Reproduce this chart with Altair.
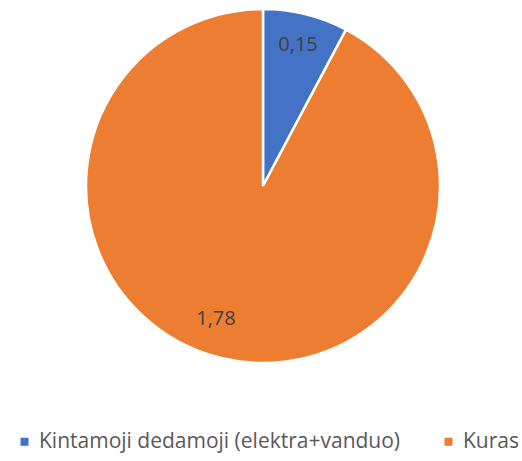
import altair as alt
import pandas as pd

categories = ["Kintamoji dedamoji (elektra+vanduo)", "Kuras"]
values = [0.15, 1.78]
labels = ["0,15", "1,78"]
colors = ["#4472C4", "#ED7D31"]

df = pd.DataFrame({"cat": categories, "val": values, "label": labels, "order": [0, 1]})

base = alt.Chart(df).transform_calculate(
    lab_a="datum.order == 0 ? datum.label : ''",
    lab_b="datum.order == 1 ? datum.label : ''",
).encode(
    theta=alt.Theta("val:Q", stack=True),
    order=alt.Order("order:Q"),
    x=alt.value(263),
    y=alt.value(186),
)

pie = base.mark_arc(outerRadius=177, stroke="white", strokeWidth=2.5).encode(
    color=alt.Color(
        "cat:N",
        scale=alt.Scale(domain=categories, range=colors),
        sort=categories,
        legend=alt.Legend(
            title=None,
            orient="none",
            legendX=14,
            legendY=431,
            direction="horizontal",
            symbolType="square",
            symbolSize=64,
            symbolStrokeWidth=0,
            labelFont="Open Sans",
            labelFontSize=21,
            labelColor="#595959",
            labelLimit=500,
            labelOffset=4,
            columnPadding=37,
            symbolOffset=0,
        ),
    )
)

text_small = base.mark_text(radius=145, font="Open Sans", fontSize=20, color="#404040").encode(
    text="lab_a:N"
)

text_big = base.mark_text(radius=145, font="Open Sans", fontSize=20, color="#404040", dx=-12, dy=-8).encode(
    text="lab_b:N"
)

chart = (
    alt.layer(pie, text_small, text_big)
    .properties(width=522, height=461, autosize=alt.AutoSizeParams(type="none"), padding=0)
    .configure_view(stroke=None)
)

chart.save("out.html", embed_options={"renderer": "svg", "actions": False})
